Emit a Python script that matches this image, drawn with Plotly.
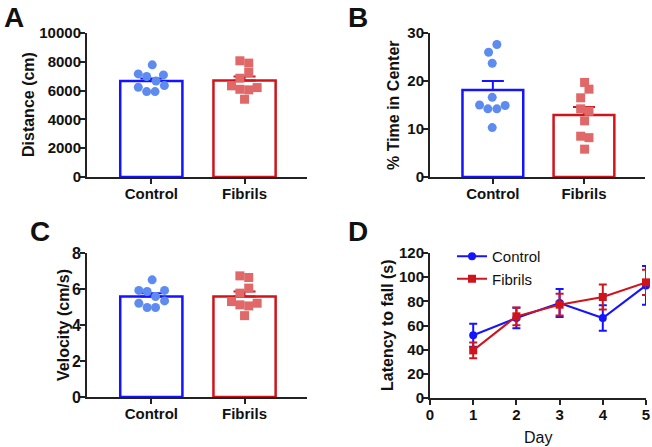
import plotly.graph_objects as go

groups = ["Control", "Fibrils"]

# A: distance (cm)
dist_mean = [6670, 6700]
dist_sem = [170, 280]
dist_ctrl = [7160, 6980, 7790, 7090, 6230, 5930, 5930, 6670, 6350]
dist_fib = [8070, 7910, 7260, 6860, 6330, 6090, 6050, 6210, 5400]

# B: % time in center
center_mean = [18.1, 12.9]
center_sem = [1.9, 1.7]
center_ctrl = [27.6, 26.0, 23.7, 16.6, 15.0, 14.2, 14.2, 14.9, 10.3]
center_fib = [19.7, 18.3, 16.5, 14.2, 13.7, 11.7, 8.5, 8.2, 5.8]

# C: velocity (cm/s)
vel_mean = [5.58, 5.58]
vel_sem = [0.19, 0.28]
vel_ctrl = [6.51, 5.92, 5.86, 5.92, 5.58, 5.21, 5.34, 4.97, 4.97]
vel_fib = [6.73, 6.64, 6.05, 5.77, 5.30, 5.12, 5.06, 5.21, 4.52]

# D: rotarod latency
days = [1, 2, 3, 4, 5]
lat_ctrl = [51.9, 66.2, 78.6, 66.2, 93.2]
lat_ctrl_sem = [9.5, 8.5, 11.6, 10.5, 16.0]
lat_fib = [39.4, 67.6, 77.2, 83.6, 95.7]
lat_fib_sem = [6.6, 7.4, 9.0, 10.3, 10.5]

# horizontal scatter offsets of the dots inside each bar
jit_a_ctrl = [-0.14, -0.05, 0.01, 0.13, -0.14, -0.05, 0.04, 0.05, 0.14]
jit_a_fib = [-0.05, 0.045, 0.045, -0.05, -0.14, -0.05, 0.045, 0.135, 0.0]
jit_b_ctrl = [0.044, -0.047, -0.007, -0.007, -0.146, -0.055, 0.044, 0.135, -0.007]
jit_b_fib = [0.007, 0.055, -0.036, -0.036, 0.055, 0.007, -0.036, 0.055, 0.007]
jit_c_ctrl = [0.009, -0.134, -0.045, 0.142, 0.045, -0.134, 0.142, -0.045, 0.045]
jit_c_fib = [-0.05, 0.045, 0.045, -0.05, -0.14, -0.05, 0.045, 0.135, 0.0]

BLUE = "#1414FF"
RED = "#D0141C"
DOT_BLUE = "#5E8BF0"
DOT_RED = "#E06868"
FONT = "Liberation Sans, Arial, sans-serif"

fig = go.Figure()


def bar_panel(n, means, sems, ctrl, fib, jc, jf):
    xa = "x" if n == 1 else f"x{n}"
    ya = "y" if n == 1 else f"y{n}"
    for i, col in enumerate([BLUE, RED]):
        fig.add_trace(go.Bar(
            x=[i], y=[means[i]], width=0.667, xaxis=xa, yaxis=ya,
            marker=dict(color="rgba(255,255,255,0)", line=dict(color=col, width=2.5)),
            error_y=dict(type="data", array=[sems[i]], arrayminus=[0], symmetric=False,
                         color=col, thickness=2, width=11),
            showlegend=False, cliponaxis=False))
    fig.add_trace(go.Scatter(
        x=[j for j in jc], y=ctrl, mode="markers", xaxis=xa, yaxis=ya,
        marker=dict(symbol="circle", size=9, color=DOT_BLUE), showlegend=False))
    fig.add_trace(go.Scatter(
        x=[1 + j for j in jf], y=fib, mode="markers", xaxis=xa, yaxis=ya,
        marker=dict(symbol="square", size=9, color=DOT_RED), showlegend=False))


bar_panel(1, dist_mean, dist_sem, dist_ctrl, dist_fib, jit_a_ctrl, jit_a_fib)
bar_panel(2, center_mean, center_sem, center_ctrl, center_fib, jit_b_ctrl, jit_b_fib)
bar_panel(3, vel_mean, vel_sem, vel_ctrl, vel_fib, jit_c_ctrl, jit_c_fib)

fig.add_trace(go.Scatter(
    x=days, y=lat_ctrl, name="Control", mode="lines+markers", xaxis="x4", yaxis="y4",
    line=dict(color=BLUE, width=2), marker=dict(symbol="circle", size=8, color=BLUE),
    error_y=dict(type="data", array=lat_ctrl_sem, color=BLUE, thickness=2, width=4),
    cliponaxis=False))
fig.add_trace(go.Scatter(
    x=days, y=lat_fib, name="Fibrils", mode="lines+markers", xaxis="x4", yaxis="y4",
    line=dict(color=RED, width=2), marker=dict(symbol="square", size=8, color=RED),
    error_y=dict(type="data", array=lat_fib_sem, color=RED, thickness=2, width=4),
    cliponaxis=False))

W, H = 652, 447


def px(a, b):
    return [a / W, b / W]


def py(top, bottom):
    return [1 - bottom / H, 1 - top / H]


bold = dict(family=FONT, size=15, color="#111", weight="bold")
ax_common = dict(showline=True, linecolor="#222", linewidth=2, ticks="outside",
                 ticklen=5, tickwidth=2, tickcolor="#222", showgrid=False,
                 zeroline=False, tickfont=bold, automargin=False, tickformat="d")
ax_y = dict(ax_common, ticklabelstandoff=-4)
ax_x = dict(ax_common, ticklabelstandoff=-3)

cat_x = dict(ax_x, tickvals=[0, 1], ticktext=groups, range=[-0.69, 1.67])

fig.update_layout(
    width=W, height=H, margin=dict(l=0, r=0, t=0, b=0, autoexpand=False),
    plot_bgcolor="white", paper_bgcolor="white",
    font=dict(family=FONT, color="#111"),
    barmode="overlay",
    xaxis=dict(cat_x, domain=px(87, 307), anchor="y"),
    yaxis=dict(ax_y, domain=py(33, 177), range=[0, 10000], dtick=2000, anchor="x"),
    xaxis2=dict(cat_x, domain=px(430, 645), anchor="y2"),
    yaxis2=dict(ax_y, domain=py(33, 177), range=[0, 30], dtick=10, anchor="x2"),
    xaxis3=dict(cat_x, domain=px(87, 307), anchor="y3"),
    yaxis3=dict(ax_y, domain=py(253, 397), range=[0, 8], dtick=2, anchor="x3",
                tickfont=dict(bold, size=16)),
    xaxis4=dict(ax_x, domain=px(430, 646), range=[0, 5], dtick=1, anchor="y4"),
    yaxis4=dict(ax_y, domain=py(253, 398), range=[0, 120], dtick=20, anchor="x4"),
    legend=dict(x=452 / W, y=1 - 240 / H, xanchor="left", yanchor="top",
                font=dict(family=FONT, size=15, color="#111"),
                bgcolor="rgba(0,0,0,0)", tracegroupgap=0, itemwidth=30),
    showlegend=True,
)

annots = [
    ("A", 14, 17, 28), ("B", 358, 17, 28), ("C", 40, 232, 28), ("D", 358, 232, 28),
]
for t, x, y, s in annots:
    fig.add_annotation(text=t, x=x / W, y=1 - y / H, xref="paper", yref="paper",
                       showarrow=False, xanchor="center", yanchor="middle",
                       font=dict(family=FONT, size=s, color="#111", weight="bold"))

titles = [
    ("Distance (cm)", 28, 105), ("% Time in Center", 393, 105),
    ("Velocity (cm/s)", 63, 325), ("Latency to fall (s)", 387, 325),
]
for t, x, y in titles:
    fig.add_annotation(text=t, x=x / W, y=1 - y / H, xref="paper", yref="paper",
                       showarrow=False, textangle=-90, xanchor="center", yanchor="middle",
                       font=dict(family=FONT, size=16, color="#111", weight="bold"))

fig.add_annotation(text="Day", x=538 / W, y=1 - 437 / H, xref="paper", yref="paper",
                   showarrow=False, xanchor="center", yanchor="middle",
                   font=dict(family=FONT, size=16, color="#111"))

fig.write_html("out.html", config={"displayModeBar": False},
               post_script="document.body.style.margin='0px';")
